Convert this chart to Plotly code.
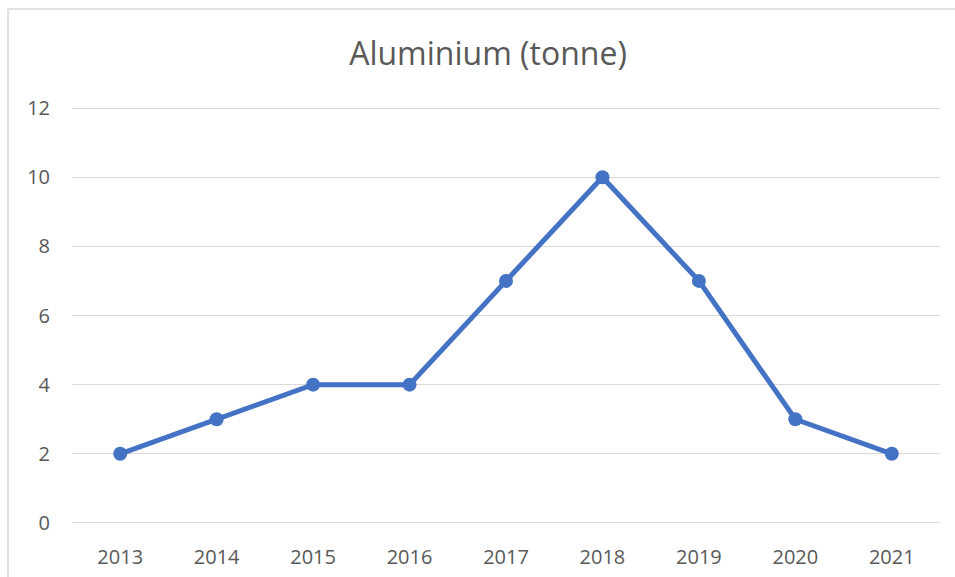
import plotly.graph_objects as go

years = ["2013", "2014", "2015", "2016", "2017", "2018", "2019", "2020", "2021"]
values = [2, 3, 4, 4, 7, 10, 7, 3, 2]
y_ticks = [0, 2, 4, 6, 8, 10, 12]

W, H = 955, 577
L, R, T, B = 72, 15, 107, 53
PW, PH = W - L - R, H - T - B

fig = go.Figure()
fig.add_trace(go.Scatter(
    x=years, y=values, mode="lines+markers",
    line=dict(color="#4472C4", width=5),
    marker=dict(color="#4472C4", size=14),
    showlegend=False, hoverinfo="x+y",
))

fig.update_layout(
    width=W, height=H,
    margin=dict(l=L, r=R, t=T, b=B, autoexpand=False),
    paper_bgcolor="white", plot_bgcolor="white",
    font=dict(family="Open Sans, Noto Sans, sans-serif", color="#595959", size=20),
    title=dict(text="Aluminium (tonne)", x=488 / W, xanchor="center", xref="container",
               y=1 - 54 / H, yanchor="middle", yref="container",
               font=dict(size=32, color="#595959")),
    xaxis=dict(type="category", range=[-0.5, 8.5], showgrid=False, zeroline=False,
               showline=False, ticks="", ticklabelstandoff=19, automargin=False,
               tickfont=dict(size=20, color="#595959")),
    yaxis=dict(range=[-0.03, 12.03], tickvals=y_ticks, showgrid=True, gridcolor="#D9D9D9",
               gridwidth=1.3, zeroline=False, showline=False, ticks="",
               ticklabelstandoff=21, automargin=False,
               tickfont=dict(size=20, color="#595959"), fixedrange=True),
    shapes=[dict(type="rect", xref="paper", yref="paper",
                 x0=(8 - L) / PW, x1=(W + 20 - L) / PW,
                 y0=-(B + 30) / PH, y1=(H - 9 - B) / PH,
                 line=dict(color="#D9D9D9", width=1.5), fillcolor="rgba(0,0,0,0)",
                 layer="below")],
)

fig.write_html("out.html", config={"displayModeBar": False},
               post_script="document.body.style.margin='0';document.body.style.overflow='hidden';")
